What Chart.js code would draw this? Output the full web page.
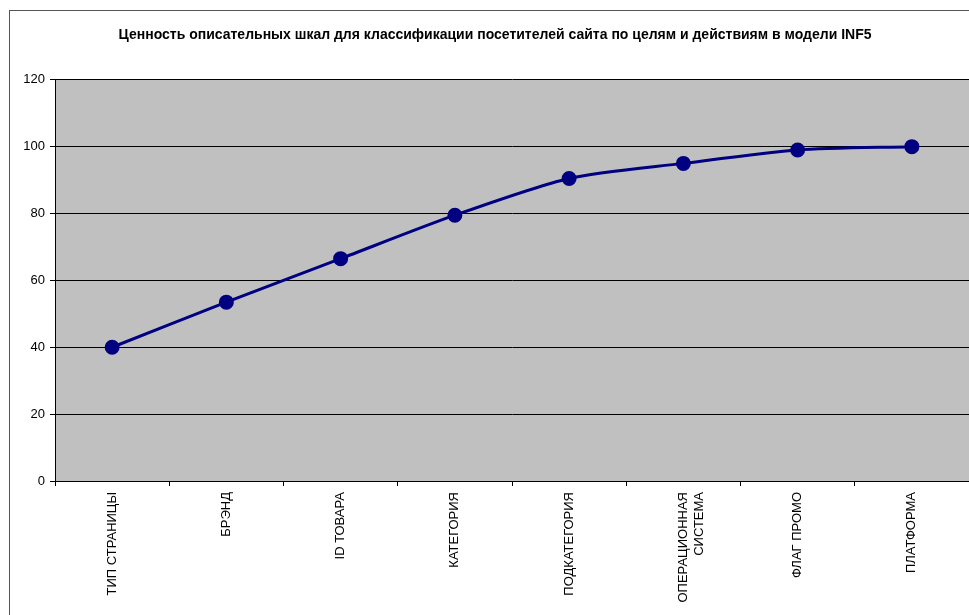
<!DOCTYPE html>
<html>
<head>
<meta charset="utf-8">
<script src="https://cdn.jsdelivr.net/npm/chart.js@4/dist/chart.umd.min.js"></script>
<style>
    body { margin: 0; background: #fff; overflow: hidden; }
</style>
</head>
<body>
<canvas id="chart" width="990" height="615"></canvas>
<script>
const titleText = 'Ценность описательных шкал для классификации посетителей сайта по целям и действиям в модели INF5';
const categories = ['ТИП СТРАНИЦЫ', 'БРЭНД', 'ID ТОВАРА', 'КАТЕГОРИЯ', 'ПОДКАТЕГОРИЯ', ['ОПЕРАЦИОННАЯ', 'СИСТЕМА'], 'ФЛАГ ПРОМО', 'ПЛАТФОРМА'];
const values = [40, 53.5, 66.5, 79.5, 90.5, 95, 99, 100];
const yMin = 0, yMax = 120, yStep = 20;

// grey plot background + outer frame like the excel chart
const excelLook = {
    id: 'excelLook',
    beforeDraw(chart) {
        const ctx = chart.ctx;
        const a = chart.chartArea;
        ctx.save();
        ctx.fillStyle = '#c0c0c0';
        ctx.fillRect(a.left, a.top, a.right - a.left, a.bottom - a.top);
        ctx.strokeStyle = '#555';
        ctx.lineWidth = 1;
        ctx.strokeRect(9.5, 10.5, 1100, 1000);
        ctx.restore();
    }
};

new Chart(document.getElementById('chart'), {
    type: 'line',
    data: {
        labels: categories,
        datasets: [{
            data: values,
            borderColor: '#000080',
            backgroundColor: '#000080',
            borderWidth: 3,
            pointRadius: 6,
            pointBackgroundColor: '#000080',
            pointBorderColor: '#000080',
            tension: 0.25
        }]
    },
    options: {
        responsive: false,
        animation: false,
        devicePixelRatio: 1,
        layout: { padding: { left: 21, right: 21, top: 0, bottom: 0 } },
        plugins: {
            legend: { display: false },
            tooltip: { enabled: false },
            title: {
                display: true,
                text: titleText,
                color: '#000',
                font: { family: 'Liberation Sans', size: 14, weight: 'bold' },
                padding: { top: 27, bottom: 36 }
            }
        },
        scales: {
            x: {
                offset: true,
                grid: { offset: true, drawOnChartArea: false, drawTicks: true, tickLength: 5, color: '#000' },
                border: { display: true, color: '#000', width: 1 },
                ticks: {
                    color: '#000',
                    font: { family: 'Liberation Sans', size: 13 },
                    minRotation: 90,
                    maxRotation: 90,
                    autoSkip: false,
                    padding: 6
                },
                afterFit(scale) { scale.height = 134; }
            },
            y: {
                min: yMin,
                max: yMax,
                grid: { color: '#000', lineWidth: 1, tickLength: 5 },
                border: { display: true, color: '#000', width: 1 },
                ticks: {
                    stepSize: yStep,
                    color: '#000',
                    font: { family: 'Liberation Sans', size: 13 },
                    padding: 5
                },
                afterFit(scale) { scale.width = 34; }
            }
        }
    },
    plugins: [excelLook]
});
</script>
</body>
</html>
